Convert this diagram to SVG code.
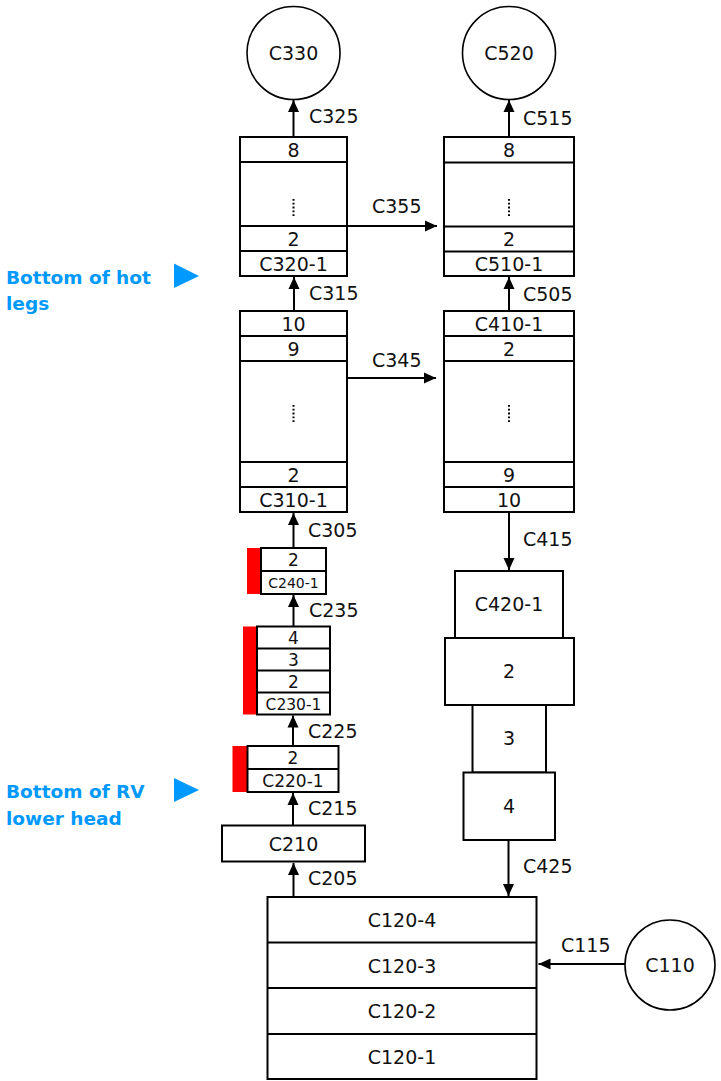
<svg xmlns="http://www.w3.org/2000/svg" width="721" height="1081" viewBox="0 0 721 1081">
<style>
.box{fill:#fff;stroke:#000;stroke-width:2}
.ln{stroke:#000;stroke-width:2}
.cir{fill:#fff;stroke:#000;stroke-width:1.6}
.red{fill:#ff0000}
.t{font-family:"DejaVu Sans",sans-serif;font-size:19px;fill:#111;text-anchor:middle}
.s{font-size:17px}
.xs{font-size:14px}
.lb{font-family:"DejaVu Sans",sans-serif;font-size:19px;fill:#111}
.blue{font-family:"DejaVu Sans",sans-serif;font-size:18.5px;font-weight:bold;fill:#0099ff}
.dots{stroke:#000;stroke-width:2;stroke-dasharray:1.8 2}
.con{stroke:#000;stroke-width:2;fill:none;marker-end:url(#ah)}
</style>
<defs>
<marker id="ah" markerUnits="userSpaceOnUse" markerWidth="13" markerHeight="12" refX="12" refY="6" orient="auto">
<path d="M0,0.5 L12,6 L0,11.5 z" fill="#000"/>
</marker>
</defs>
<rect width="721" height="1081" fill="#fff"/>

<g id="connectors">
<line class="con" x1="293.5" y1="137" x2="293.5" y2="100"/>
<line class="con" x1="509" y1="137" x2="509" y2="100"/>
<line class="con" x1="347" y1="226" x2="437" y2="226"/>
<line class="con" x1="294" y1="311" x2="294" y2="277"/>
<line class="con" x1="509" y1="311" x2="509" y2="277"/>
<line class="con" x1="347" y1="378" x2="436" y2="378"/>
<line class="con" x1="293.5" y1="548" x2="293.5" y2="513"/>
<line class="con" x1="293.5" y1="626.5" x2="293.5" y2="595"/>
<line class="con" x1="293" y1="746" x2="293" y2="715.5"/>
<line class="con" x1="293" y1="825.5" x2="293" y2="793"/>
<line class="con" x1="293.5" y1="897" x2="293.5" y2="863"/>
<line class="con" x1="509" y1="512" x2="509" y2="570"/>
<line class="con" x1="508.5" y1="840" x2="508.5" y2="896"/>
<line class="con" x1="625" y1="964" x2="538.5" y2="964"/>
<text class="lb" x="309" y="123">C325</text>
<text class="lb" x="523" y="125">C515</text>
<text class="lb" x="372" y="213">C355</text>
<text class="lb" x="309" y="300">C315</text>
<text class="lb" x="523" y="301">C505</text>
<text class="lb" x="372" y="367">C345</text>
<text class="lb" x="308" y="537">C305</text>
<text class="lb" x="309" y="617">C235</text>
<text class="lb" x="523" y="546">C415</text>
<text class="lb" x="308" y="738">C225</text>
<text class="lb" x="308" y="815">C215</text>
<text class="lb" x="308" y="885">C205</text>
<text class="lb" x="523" y="873">C425</text>
<text class="lb" x="561" y="952">C115</text>
</g>

<g id="C330">
<circle class="cir" cx="293.5" cy="53" r="46.5"/>
<text class="t" x="293.5" y="60">C330</text>
</g>
<g id="C520">
<circle class="cir" cx="509" cy="53" r="46.5"/>
<text class="t" x="509" y="60">C520</text>
</g>

<g id="C320">
<rect class="box" x="240" y="137" width="107" height="139"/>
<line class="ln" x1="240" y1="162" x2="347" y2="162"/>
<line class="ln" x1="240" y1="226" x2="347" y2="226"/>
<line class="ln" x1="240" y1="251" x2="347" y2="251"/>
<text class="t" x="293.5" y="156.5">8</text>
<line class="dots" x1="293.5" y1="199" x2="293.5" y2="217"/>
<text class="t" x="293.5" y="245.5">2</text>
<text class="t" x="293.5" y="270.5">C320-1</text>
</g>

<g id="C510">
<rect class="box" x="444" y="137" width="130" height="139"/>
<line class="ln" x1="444" y1="162.5" x2="574" y2="162.5"/>
<line class="ln" x1="444" y1="226.5" x2="574" y2="226.5"/>
<line class="ln" x1="444" y1="251.5" x2="574" y2="251.5"/>
<text class="t" x="509" y="157">8</text>
<line class="dots" x1="509" y1="199" x2="509" y2="217"/>
<text class="t" x="509" y="246">2</text>
<text class="t" x="509" y="271">C510-1</text>
</g>

<g id="C310">
<rect class="box" x="240" y="311" width="107" height="201"/>
<line class="ln" x1="240" y1="336" x2="347" y2="336"/>
<line class="ln" x1="240" y1="361" x2="347" y2="361"/>
<line class="ln" x1="240" y1="462" x2="347" y2="462"/>
<line class="ln" x1="240" y1="487" x2="347" y2="487"/>
<text class="t" x="293.5" y="330.5">10</text>
<text class="t" x="293.5" y="355.5">9</text>
<line class="dots" x1="293.5" y1="405" x2="293.5" y2="423"/>
<text class="t" x="293.5" y="481.5">2</text>
<text class="t" x="293.5" y="506.5">C310-1</text>
</g>

<g id="C410">
<rect class="box" x="444" y="311" width="130" height="201"/>
<line class="ln" x1="444" y1="336" x2="574" y2="336"/>
<line class="ln" x1="444" y1="361" x2="574" y2="361"/>
<line class="ln" x1="444" y1="462" x2="574" y2="462"/>
<line class="ln" x1="444" y1="487" x2="574" y2="487"/>
<text class="t" x="509" y="330.5">C410-1</text>
<text class="t" x="509" y="355.5">2</text>
<line class="dots" x1="509" y1="405" x2="509" y2="423"/>
<text class="t" x="509" y="481.5">9</text>
<text class="t" x="509" y="506.5">10</text>
</g>

<g id="C240">
<rect class="red" x="247" y="548" width="14" height="46"/>
<rect class="box" x="261" y="548" width="65" height="46"/>
<line class="ln" x1="261" y1="571" x2="326" y2="571"/>
<text class="t s" x="293.5" y="565.5">2</text>
<text class="t xs" x="293.5" y="588">C240-1</text>
</g>

<g id="C230">
<rect class="red" x="243" y="626.5" width="14" height="88"/>
<rect class="box" x="257" y="626.5" width="73" height="88"/>
<line class="ln" x1="257" y1="648.5" x2="330" y2="648.5"/>
<line class="ln" x1="257" y1="670.5" x2="330" y2="670.5"/>
<line class="ln" x1="257" y1="692.5" x2="330" y2="692.5"/>
<text class="t s" x="293.5" y="644">4</text>
<text class="t s" x="293.5" y="666">3</text>
<text class="t s" x="293.5" y="688">2</text>
<text class="t" x="293.5" y="709.5" style="font-size:15.5px">C230-1</text>
</g>

<g id="C220">
<rect class="red" x="232.5" y="746" width="15" height="46"/>
<rect class="box" x="247.5" y="746" width="91" height="46"/>
<line class="ln" x1="247.5" y1="769" x2="338.5" y2="769"/>
<text class="t s" x="293" y="764">2</text>
<text class="t s" x="293" y="787">C220-1</text>
</g>

<g id="C210">
<rect class="box" x="222" y="825.5" width="143" height="36"/>
<text class="t" x="293.5" y="850.5">C210</text>
</g>

<g id="C420">
<rect class="box" x="455" y="571" width="108" height="67"/>
<text class="t" x="509" y="611">C420-1</text>
<rect class="box" x="445" y="638" width="129" height="67"/>
<text class="t" x="509" y="678">2</text>
<rect class="box" x="472.5" y="705" width="73.5" height="67.5"/>
<text class="t" x="509" y="745">3</text>
<rect class="box" x="463.5" y="772.5" width="91.5" height="67.5"/>
<text class="t" x="509" y="812.5">4</text>
</g>

<g id="C120">
<rect class="box" x="267.5" y="897" width="269" height="182"/>
<line class="ln" x1="267.5" y1="942.5" x2="536.5" y2="942.5"/>
<line class="ln" x1="267.5" y1="988" x2="536.5" y2="988"/>
<line class="ln" x1="267.5" y1="1034" x2="536.5" y2="1034"/>
<text class="t" x="402" y="927">C120-4</text>
<text class="t" x="402" y="972.5">C120-3</text>
<text class="t" x="402" y="1018">C120-2</text>
<text class="t" x="402" y="1063.5">C120-1</text>
</g>

<g id="C110">
<circle class="cir" cx="670" cy="965" r="45"/>
<text class="t" x="670" y="972">C110</text>
</g>

<g id="hotlegs">
<text class="blue" x="6" y="284">Bottom of hot</text>
<text class="blue" x="6" y="310">legs</text>
<polygon points="174,263.5 174,288 199,276" fill="#0099ff"/>
</g>
<g id="rvhead">
<text class="blue" x="6" y="798">Bottom of RV</text>
<text class="blue" x="6" y="825">lower head</text>
<polygon points="174,778 174,802 199,790" fill="#0099ff"/>
</g>
</svg>
